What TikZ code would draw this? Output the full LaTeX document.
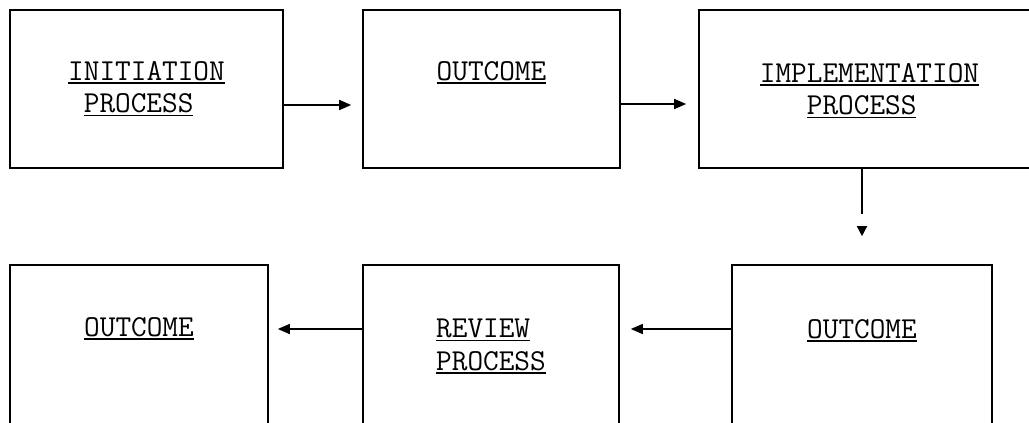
\documentclass[tikz,border=0pt]{standalone}
\usetikzlibrary{arrows.meta}
\newlength\ulwd
% typewriter-style underline, a little heavier than \underline
\newcommand\ulword[1]{\settowidth\ulwd{#1}\rlap{\rule[-3.8pt]{\ulwd}{1.7pt}}#1}
\begin{document}
\begin{tikzpicture}[x=1pt,y=-1pt,
  stage/.style={draw, line width=1.6pt, rectangle, inner sep=0pt},
  caption/.style={anchor=north, inner sep=0pt, align=left,
    font=\ttfamily\fontsize{30.4}{32.5}\selectfont},
  flow/.style={line width=1.5pt, -{Triangle[length=12pt,width=10pt]}}]
\useasboundingbox (0,0) rectangle (1029,423);
\clip (0,0) rectangle (1029,423);

% upper row
\node[stage, minimum width=273pt, minimum height=158pt] (b1) at (146.5,89) {};
\node[stage, minimum width=257pt, minimum height=158pt] (b2) at (491.5,89) {};
\node[stage, minimum width=341pt, minimum height=158pt] (b3) at (869.5,89) {};
% lower row
\node[stage, minimum width=258pt, minimum height=165pt] (b4) at (139,347.5) {};
\node[stage, minimum width=256pt, minimum height=165pt] (b5) at (491,347.5) {};
\node[stage, minimum width=260pt, minimum height=165pt] (b6) at (862,347.5) {};

% box texts
\node[caption] (t1) at ([yshift=-51.7pt]b1.north) {\ulword{INITIATION}\\\ \ulword{PROCESS}};
\node[caption] (t2) at ([yshift=-51.7pt]b2.north) {\ulword{OUTCOME}};
\node[caption] (t3) at ([yshift=-53.7pt]b3.north) {\ulword{IMPLEMENTATION}\\\ \ \ \ulword{PROCESS}};
\node[caption] (t4) at ([yshift=-52.7pt]b4.north) {\ulword{OUTCOME}};
\node[caption] (t5) at ([yshift=-54.7pt]b5.north) {\ulword{REVIEW}\\\ulword{PROCESS}};
\node[caption] (t6) at ([yshift=-54.7pt]b6.north) {\ulword{OUTCOME}};

% connectors
\draw[flow, shorten >=11pt] ([yshift=-16pt]b1.east) -- ([yshift=-16pt]b1.east -| b2.west);
\draw[flow, shorten >=12pt] ([yshift=-15pt]b2.east) -- ([yshift=-15pt]b2.east -| b3.west);
\draw[line width=1.5pt, -{Triangle[length=10pt,width=10pt]}, shorten >=28pt,
  dash pattern=on 45pt off 200pt] (b3.south -| b6.north) -- (b6.north);
\draw[flow, shorten >=11pt, dash pattern=on 88pt off 200pt] ([yshift=18.5pt]b6.west) -- ([yshift=18.5pt]b6.west -| b5.east);
\draw[flow, shorten >=9pt, dash pattern=on 73pt off 200pt] ([yshift=18.5pt]b5.west) -- ([yshift=18.5pt]b5.west -| b4.east);
\end{tikzpicture}
\end{document}
